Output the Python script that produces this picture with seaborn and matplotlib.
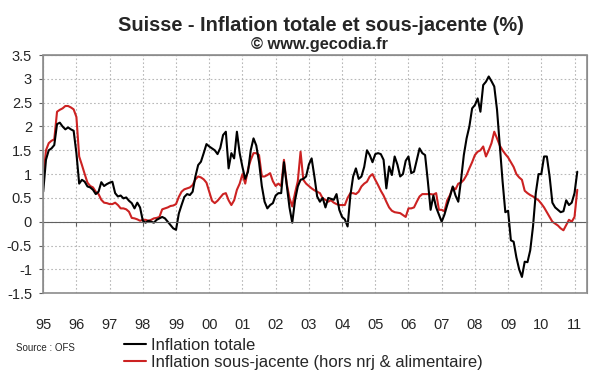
import numpy as np
import pandas as pd
import seaborn as sns
import matplotlib.pyplot as plt
from matplotlib.patches import Rectangle

# monthly values, Jan 1995 -> Feb 2011
total = [
    0.63, 1.3, 1.5, 1.54, 1.61, 2.05, 2.08, 2.0, 1.94, 1.98, 1.94, 1.91,   # 1995
    1.44, 0.8, 0.88, 0.84, 0.74, 0.72, 0.67, 0.58, 0.63, 0.83, 0.75, 0.79,  # 1996
    0.82, 0.84, 0.6, 0.53, 0.55, 0.49, 0.51, 0.44, 0.39, 0.28, 0.4, 0.3,    # 1997
    0.02, -0.02, 0.02, 0.0, -0.02, 0.04, 0.07, 0.1, 0.07, 0.0, -0.07, -0.14,  # 1998
    -0.17, 0.17, 0.35, 0.52, 0.58, 0.56, 0.63, 0.95, 1.19, 1.26, 1.44, 1.63,  # 1999
    1.58, 1.54, 1.5, 1.42, 1.55, 1.82, 1.89, 1.12, 1.44, 1.33, 1.89, 1.44,  # 2000
    1.15, 0.9, 1.05, 1.5, 1.75, 1.6, 1.25, 0.75, 0.42, 0.28, 0.35, 0.39,    # 2001
    0.55, 0.6, 0.6, 1.25, 0.77, 0.3, -0.02, 0.45, 0.74, 0.88, 0.9, 0.95,    # 2002
    1.2, 1.33, 0.95, 0.53, 0.42, 0.5, 0.3, 0.5, 0.48, 0.46, 0.58, 0.25,     # 2003
    0.1, 0.05, -0.1, 0.55, 0.95, 1.12, 0.9, 0.95, 1.15, 1.5, 1.4, 1.25,     # 2004
    1.42, 1.44, 1.42, 1.3, 0.7, 1.16, 0.98, 1.37, 1.2, 0.95, 1.0, 1.28,     # 2005
    1.37, 1.02, 1.05, 1.3, 1.54, 1.44, 1.4, 0.85, 0.25, 0.55, 0.3, 0.15,    # 2006
    0.0, 0.15, 0.35, 0.53, 0.74, 0.55, 0.42, 0.88, 1.4, 1.75, 2.0, 2.38,    # 2007
    2.45, 2.59, 2.31, 2.87, 2.94, 3.05, 2.95, 2.84, 2.35, 1.6, 0.85, 0.2,   # 2008
    0.23, -0.39, -0.42, -0.75, -1.0, -1.16, -0.84, -0.85, -0.6, -0.1, 0.6, 1.0,  # 2009
    1.0, 1.37, 1.37, 0.95, 0.4, 0.3, 0.25, 0.2, 0.22, 0.45, 0.35, 0.4,      # 2010
    0.6, 1.05,                                                              # 2011
]
core = [
    0.9, 1.5, 1.65, 1.7, 1.73, 2.31, 2.35, 2.38, 2.43, 2.43, 2.4, 2.36,     # 1995
    2.2, 1.37, 1.19, 1.0, 0.82, 0.75, 0.72, 0.63, 0.58, 0.46, 0.4, 0.39,    # 1996
    0.37, 0.37, 0.4, 0.35, 0.28, 0.28, 0.26, 0.21, 0.08, 0.07, 0.05, 0.02,  # 1997
    0.04, 0.04, 0.02, 0.04, 0.07, 0.08, 0.1, 0.26, 0.28, 0.3, 0.33, 0.34,   # 1998
    0.37, 0.52, 0.63, 0.68, 0.7, 0.72, 0.77, 0.89, 0.95, 0.93, 0.89, 0.82,  # 1999
    0.63, 0.44, 0.39, 0.44, 0.51, 0.58, 0.6, 0.45, 0.35, 0.45, 0.67, 0.8,   # 2000
    1.0, 0.8, 1.1, 1.3, 1.44, 1.44, 1.4, 0.95, 0.95, 0.98, 1.02, 0.85,      # 2001
    0.75, 0.8, 0.75, 1.3, 0.8, 0.5, 0.32, 0.6, 0.85, 1.47, 0.88, 0.8,       # 2002
    0.75, 0.7, 0.66, 0.63, 0.6, 0.49, 0.46, 0.42, 0.45, 0.4, 0.37, 0.35,    # 2003
    0.35, 0.35, 0.5, 0.6, 0.6, 0.58, 0.63, 0.74, 0.8, 0.84, 0.95, 1.0,      # 2004
    0.88, 0.77, 0.65, 0.55, 0.42, 0.3, 0.23, 0.2, 0.19, 0.18, 0.14, 0.1,    # 2005
    0.28, 0.28, 0.3, 0.42, 0.53, 0.58, 0.58, 0.58, 0.58, 0.57, 0.6, 0.25,   # 2006
    0.25, 0.22, 0.45, 0.56, 0.72, 0.68, 0.8, 0.82, 0.88, 0.98, 1.12, 1.25,  # 2007
    1.4, 1.47, 1.5, 1.58, 1.37, 1.5, 1.65, 1.89, 1.75, 1.6, 1.5, 1.42,      # 2008
    1.35, 1.25, 1.15, 1.0, 0.93, 0.88, 0.65, 0.6, 0.56, 0.53, 0.49, 0.45,   # 2009
    0.38, 0.3, 0.2, 0.1, 0.0, -0.04, -0.08, -0.14, -0.18, -0.07, 0.04, 0.0,  # 2010
    0.1, 0.67,                                                              # 2011
]
year_labels = ['95', '96', '97', '98', '99', '00', '01', '02', '03', '04',
               '05', '06', '07', '08', '09', '10', '11']

sns.set_style("white")
plt.rcParams['font.family'] = ['Liberation Sans', 'DejaVu Sans']

df = pd.DataFrame({'t': 1995 + np.arange(len(total)) / 12,
                   'total': total, 'core': core})

fig, ax = plt.subplots(figsize=(6, 3.72), dpi=100)
fig.subplots_adjust(left=0.072, right=0.978, bottom=0.212, top=0.852)

sns.lineplot(data=df, x='t', y='core', color='#cc2222', lw=1.5, ax=ax,
             label='Inflation sous-jacente (hors nrj & alimentaire)')
sns.lineplot(data=df, x='t', y='total', color='black', lw=1.5, ax=ax,
             label='Inflation totale')

ax.set_xlim(1995, 2011.37)
ax.set_ylim(-1.5, 3.5)
yt = np.arange(-1.5, 3.51, 0.5)
ax.set_yticks(yt)
ax.set_yticklabels([f'{v:g}' for v in yt])
ax.set_xticks(1995 + np.arange(len(year_labels)))
ax.set_xticklabels(year_labels)
ax.set_xlabel('')
ax.set_ylabel('')
ax.grid(True, ls=(0, (1.5, 2)), color='#b8b8b8', lw=0.8)

# x axis crosses at zero, frame kept round the plot
ax.spines['bottom'].set_position(('data', 0))
ax.spines['bottom'].set_color('#606060')
for s in ['left', 'right', 'top']:
    ax.spines[s].set_color('#8c8c8c')
ax.add_patch(Rectangle((0, 0), 1, 1, transform=ax.transAxes, fill=False,
                       edgecolor='#8c8c8c', lw=1.2, clip_on=False, zorder=5))
ax.tick_params(axis='both', bottom=True, left=True, direction='out', length=3,
               color='#606060', labelsize=10.5)
ax.tick_params(axis='x', pad=66)
ax.tick_params(axis='y', pad=5)

fig.suptitle('Suisse - Inflation totale et sous-jacente (%)', x=0.535, y=0.958,
             fontsize=14.4, fontweight='bold')
fig.text(0.532, 0.881, '© www.gecodia.fr', ha='center', va='center',
         fontsize=11.8, fontweight='bold')
fig.text(0.027, 0.064, 'Source : OFS', ha='left', va='center', fontsize=7)

h, l = ax.get_legend_handles_labels()
ax.get_legend().remove()
fig.legend(h[::-1], l[::-1], loc='upper left', bbox_to_anchor=(0.207, 0.092),
           frameon=False, fontsize=12, handlelength=1.3, handletextpad=0.3,
           labelspacing=0.12, borderpad=0, borderaxespad=0)

plt.savefig('out.png', dpi=100)
